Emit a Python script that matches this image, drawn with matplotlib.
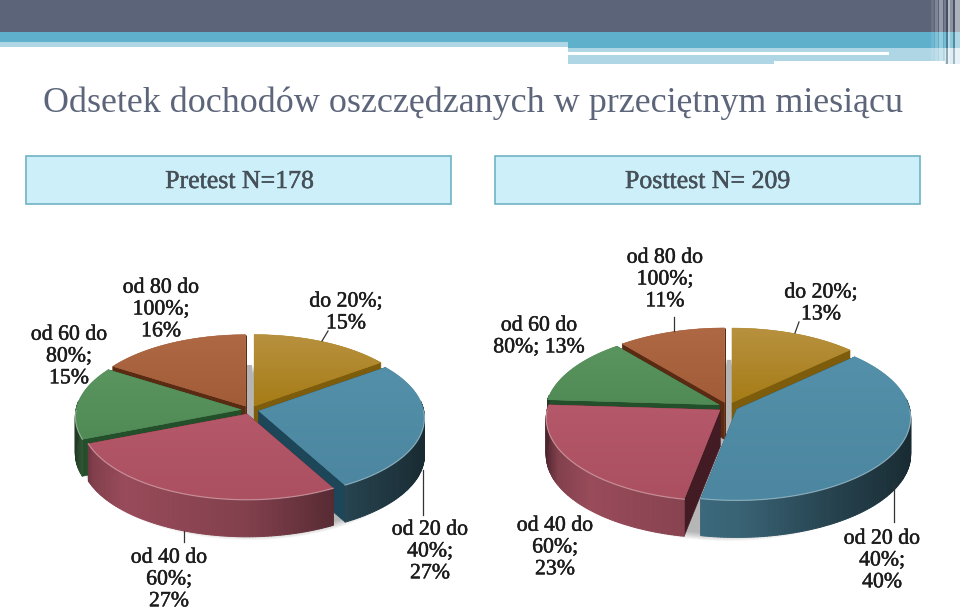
import numpy as np
import matplotlib
matplotlib.use("Agg")
import matplotlib.pyplot as plt
from matplotlib.patches import Rectangle, Polygon, Ellipse
from matplotlib.collections import PolyCollection
from matplotlib.colors import LinearSegmentedColormap, to_rgb
import matplotlib.patheffects as pe

TITLE = "Odsetek dochodów oszczędzanych w przeciętnym miesiącu"
PANEL_TITLES = ["Pretest N=178", "Posttest N= 209"]
CATEGORIES = ["do 20%", "od 20 do 40%", "od 40 do 60%", "od 60 do 80%", "od 80 do 100%"]
PRETEST = [15, 27, 27, 15, 16]
POSTTEST = [13, 40, 23, 13, 11]
TOP_LIGHT = ["#b8913f", "#5490a9", "#b4586a", "#5a955f", "#ae6844"]
TOP_DARK = ["#a67c16", "#4c86a0", "#ab5060", "#508a55", "#a25c38"]
RADIAL = ["#7d5c0c", "#1d4658", "#421b24", "#244f2b", "#5a2a12"]
SIDE = ["#a67c16", "#4f8aa3", "#b4586a", "#508a55", "#a25c38"]

PRE_LABELS = ["do 20%;\n15%", "od 20 do\n40%;\n27%", "od 40 do\n60%;\n27%", "od 60 do\n80%;\n15%", "od 80 do\n100%;\n16%"]
POST_LABELS = ["do 20%;\n13%", "od 20 do\n40%;\n40%", "od 40 do\n60%;\n23%", "od 60 do\n80%; 13%", "od 80 do\n100%;\n11%"]
PRE_LABEL_POS = [(346, 313), (430, 552), (169, 580), (69, 357), (161, 310)]
POST_LABEL_POS = [(821, 304), (882, 561), (555, 548), (539, 337), (665, 280)]
PRE_LEADERS = [((322, 341), (328, 331)), ((423, 470), (423, 515)), ((184, 531), (184, 542))]
POST_LEADERS = [((795, 333), (799, 322)), ((894, 485), (894, 522)), ((674, 331), (674, 317))]

fig = plt.figure(figsize=(9.6, 6.12), dpi=100, facecolor="white")
ax = fig.add_axes([0, 0, 1, 1])
ax.set_xlim(0, 960)
ax.set_ylim(612, 0)
ax.axis("off")

# slide header
def band(x0, x1, y0, y1, c, z=1, a=1.0):
    ax.add_patch(Rectangle((x0, y0), x1 - x0, y1 - y0, fc=c, ec="none", zorder=z, alpha=a))

band(0, 960, 0, 32, "#5b6478")
band(0, 960, 32, 42, "#5fb0ca")
band(0, 568, 42, 47, "#aed6e4")
band(568, 960, 42, 47.5, "#5fb0ca")
band(568, 945, 47.5, 52, "#aed6e4")
band(889, 945, 52, 61, "#aed6e4")
band(568, 889, 51.5, 55, "#ffffff")
band(568, 774, 55, 64, "#aed6e4")
band(774, 889, 55, 61, "#aed6e4")
for x, w, c, a, top in [(931, 3, "#ffffff", .10, 0), (935, 3, "#ffffff", .22, 0), (939, 4, "#ffffff", .35, 0),
                        (944, 2, "#ffffff", .15, 0), (946, 2, "#20283a", .35, 0), (948, 2, "#ffffff", .55, 0),
                        (950, 3, "#ffffff", .30, 0), (953, 2, "#20283a", .25, 0), (955, 5, "#ffffff", .50, 0)]:
    band(x, x + w, top, 64, c, z=2, a=a)
band(945, 960, 47.5, 64, "#cfe8f0", z=1)

# title and boxes
ax.text(473, 103, TITLE, fontsize=25.9, family="Liberation Serif", color="#5c6579", ha="center", va="center")
for (x0, x1), t in zip([(26, 451), (495, 920)], PANEL_TITLES):
    ax.add_patch(Rectangle((x0, 155.5), x1 - x0, 48.5, fc="#cdeff9", ec="#6fb3c5", lw=1.2, zorder=2))
    ax.text((x0 + x1) / 2 + (1 if x0 < 100 else 0), 182, t, fontsize=18.6, family="Liberation Serif", color="#465058",
            ha="center", va="center", zorder=3,
            path_effects=[pe.withStroke(linewidth=0.35, foreground="#465058")])


def project(a, r, g):
    s, c = np.sin(a), np.cos(a)
    k = 1 / (1 + g["k"] * c)
    return r * g["R"] * s * k, -r * g["ry"] * c * k


def draw_pie(values, g):
    cx, cy = g["c"]
    # soft floor shadow
    for i in range(8):
        ax.add_patch(Ellipse((cx, cy + g["d"] + 6), 2 * (g["R"] + 6 - i), 2 * (g["ry"] + 9 - i),
                             fc="#000000", ec="none", alpha=0.04, zorder=3))
    band(cx + g["gx"][0], cx + g["gx"][1], g["gy"][0], g["gy"][1], "#b4b4b4", z=4)
    frac = np.asarray(values, float) / sum(values)
    ends = np.cumsum(frac) * 2 * np.pi
    starts = ends - frac * 2 * np.pi
    mids = (starts + ends) / 2
    order = np.argsort(-np.cos(mids))
    z = 5
    for i in order:
        a0, a1, m = starts[i], ends[i], mids[i]
        ox = g["e"] * np.sin(m)
        oy = -g["e"] * 0.48 * np.cos(m)
        ap = np.array([cx + ox, cy + oy])
        ang = np.linspace(a0, a1, max(int(np.degrees(a1 - a0)), 8) + 1)
        rim = np.array([ap + np.array(project(t, 1, g)) for t in ang])
        down = np.array([0, g["d"]])
        # radial walls
        for p in (rim[0], rim[-1]):
            ax.add_patch(Polygon([ap, p, p + down, ap + down], fc=RADIAL[i], ec=RADIAL[i], lw=.4, zorder=z))
        z += 1
        # outer wall with a shade that follows the curve
        quads, cols = [], []
        base = np.array(to_rgb(SIDE[i]))
        for j in range(len(ang) - 1):
            mid = (ang[j] + ang[j + 1]) / 2
            if np.cos(mid) > 0.12:
                continue
            quads.append([rim[j], rim[j + 1], rim[j + 1] + down, rim[j] + down])
            f = np.interp(np.sin(mid), [-1, -.9, -.7, 0, .5, 1], [.42, .72, .85, .72, .48, .3])
            cols.append(base * f)
        if quads:
            ax.add_collection(PolyCollection(quads, facecolors=cols, edgecolors=cols, linewidths=.7, zorder=z))
        z += 1
        # top face
        pts = np.vstack([ap, rim])
        ax.add_patch(Polygon(pts, fc=TOP_DARK[i], ec=TOP_DARK[i], lw=.3, zorder=z))
        clip = Polygon(pts, fc="none", ec="none", zorder=z)
        ax.add_patch(clip)
        cm = LinearSegmentedColormap.from_list("g", [TOP_LIGHT[i], TOP_DARK[i]])
        x0, x1, y0, y1 = pts[:, 0].min(), pts[:, 0].max(), pts[:, 1].min(), pts[:, 1].max()
        im = ax.imshow(np.linspace(0, 1, 64)[:, None], cmap=cm, extent=(x0, x1, y1, y0), aspect="auto",
                       interpolation="bilinear", zorder=z + .5)
        im.set_clip_path(clip)
        front = np.cos(ang) < 0
        if front.any():
            ax.plot(rim[front, 0], rim[front, 1], color="#ffffff", alpha=.35, lw=.9, zorder=z + .6)
        z += 1
    ax.set_xlim(0, 960)
    ax.set_ylim(612, 0)


PRE_GEOM = dict(c=(250, 410), R=165, ry=78, k=.09, d=37, e=9, gx=(-4, 2), gy=(365, 418))
POST_GEOM = dict(c=(728, 407), R=173, ry=82, k=.10, d=37, e=10, gx=(-1, 3), gy=(360, 437))
draw_pie(PRETEST, PRE_GEOM)
draw_pie(POSTTEST, POST_GEOM)

for labels, pos, leaders in [(PRE_LABELS, PRE_LABEL_POS, PRE_LEADERS), (POST_LABELS, POST_LABEL_POS, POST_LEADERS)]:
    for (a, b) in leaders:
        ax.plot([a[0], b[0]], [a[1], b[1]], color="#333333", lw=.9, zorder=60)
    for t, (x, y) in zip(labels, pos):
        ax.text(x, y, t, fontsize=15.7, family="Liberation Serif", color="#1c1c1c", ha="center", va="center",
                linespacing=1.2, zorder=61, path_effects=[pe.withStroke(linewidth=0.35, foreground="#1c1c1c")])

fig.savefig("out.png", dpi=100)
